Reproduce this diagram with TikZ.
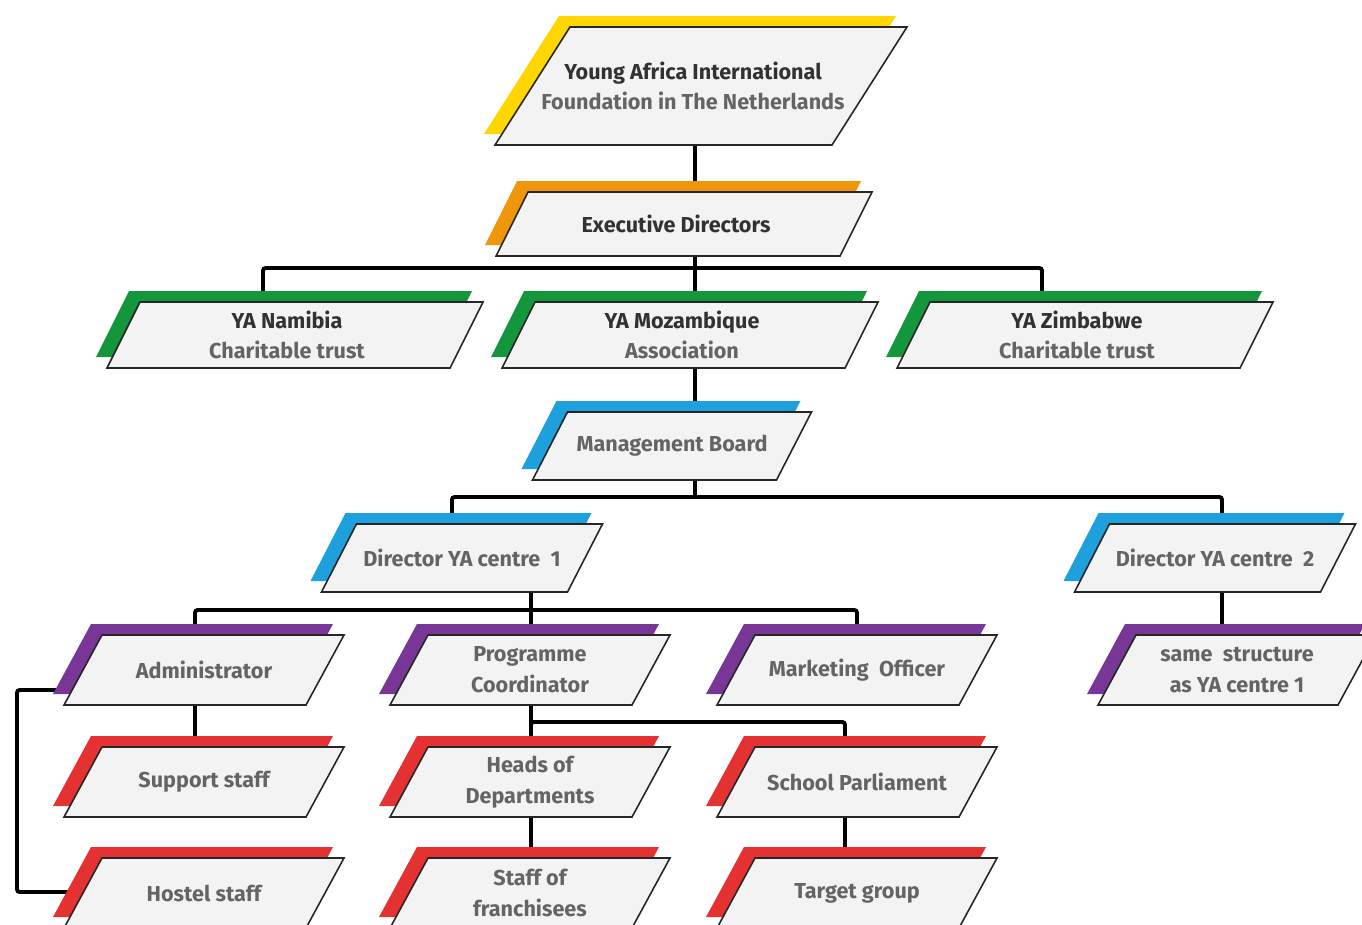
\documentclass[tikz,border=0pt]{standalone}
\usepackage{fontspec}
\setmainfont{Fira Sans}
\usetikzlibrary{positioning,calc}

\definecolor{yayellow}{RGB}{255,214,0}
\definecolor{yaorange}{RGB}{240,150,10}
\definecolor{yagreen}{RGB}{20,150,60}
\definecolor{yablue}{RGB}{30,160,220}
\definecolor{yapurple}{RGB}{120,55,150}
\definecolor{yared}{RGB}{228,50,50}
\definecolor{boxfill}{RGB}{243,243,243}
\definecolor{headgrey}{RGB}{50,50,50}
\definecolor{subgrey}{RGB}{100,100,100}

\pgfdeclarelayer{links}
\pgfdeclarelayer{boxes}
\pgfsetlayers{links,boxes,main}

\begin{document}
\begin{tikzpicture}[x=.02cm,y=-.02cm,
    boxtext/.style={align=center,inner sep=0pt,outer sep=0pt,text=subgrey,
      font=\bfseries\fontsize{12.3}{17.5}\selectfont},
    link/.style={line width=2.2pt,rounded corners=1.5pt},
    frame/.style={fill=boxfill,draw=black!85,line width=.9pt}]

  % box: [slant] name, x, y, width, height, colour, text
  \def\boxdx{8}
  \newcommand{\orgbox}[8][34]{%
    \node[boxtext,minimum width=#5*.02cm,minimum height=#6*.02cm] (#2) at (#3-\boxdx,#4) {#8};
    \begin{pgfonlayer}{boxes}
      \fill[#7] ($(#2.north west)+(#1/2-11+\boxdx,-11)$) -- ($(#2.north east)+(#1/2-11+\boxdx,-11)$)
        -- ($(#2.south east)+(-#1/2-11+\boxdx,-11)$) -- ($(#2.south west)+(-#1/2-11+\boxdx,-11)$) -- cycle;
      \draw[frame] ($(#2.north west)+(#1/2+\boxdx,0)$) -- ($(#2.north east)+(#1/2+\boxdx,0)$)
        -- ($(#2.south east)+(-#1/2+\boxdx,0)$) -- ($(#2.south west)+(-#1/2+\boxdx,0)$) -- cycle;
    \end{pgfonlayer}}
  \newcommand{\hd}[1]{\textcolor{headgrey}{#1}}

  \useasboundingbox (0,0) rectangle (1362,924);

  \orgbox[75]{yaf}{701}{86}{337}{118}{yayellow}{\hd{Young Africa International}\\Foundation in The Netherlands}
  \orgbox[32]{exec}{684}{224}{344}{64}{yaorange}{\hd{Executive Directors}}

  \orgbox[33]{nam}{295}{335}{343}{66}{yagreen}{\hd{YA Namibia}\\Charitable trust}
  \orgbox[33]{moz}{690}{335}{343}{66}{yagreen}{\hd{YA Mozambique}\\Association}
  \orgbox[33]{zim}{1085}{335}{343}{66}{yagreen}{\hd{YA Zimbabwe}\\Charitable trust}

  \def\boxdx{0}
  \orgbox[35]{mgmt}{672}{446}{244}{68}{yablue}{Management Board}
  \orgbox[35]{dir1}{462}{558}{246}{68}{yablue}{Director YA centre~~1}
  \orgbox[35]{dir2}{1215}{558}{246}{68}{yablue}{Director YA centre~~2}

  \orgbox[38]{admin}{204}{670}{242}{70}{yapurple}{Administrator}
  \orgbox[38]{prog}{530}{670}{242}{70}{yapurple}{Programme\\Coordinator}
  \orgbox[38]{mkt}{857}{670}{242}{70}{yapurple}{Marketing~~Officer}
  \orgbox[38]{same}{1237}{670}{240}{70}{yapurple}{same~~structure\\as YA centre 1}

  \orgbox[38]{supp}{204}{782}{242}{70}{yared}{Support staff}
  \orgbox[38]{heads}{530}{782}{242}{70}{yared}{Heads of\\Departments}
  \orgbox[38]{parl}{857}{782}{242}{70}{yared}{School Parliament}

  \orgbox[38]{host}{204}{893}{242}{70}{yared}{Hostel staff}
  \orgbox[38]{staff}{530}{893}{242}{70}{yared}{Staff of\\franchisees}
  \orgbox[38]{target}{857}{893}{242}{70}{yared}{Target group}

  % columns of the connectors
  \coordinate (colA) at (695,0);
  \coordinate (colN) at (263,0);
  \coordinate (colZ) at (1042,0);
  \coordinate (colD1) at (452,0);
  \coordinate (colD2) at (1222,0);
  \coordinate (colC) at (531,0);
  \coordinate (colAd) at (195,0);
  \coordinate (colM) at (857,0);
  \coordinate (colP) at (845,0);
  \coordinate (colL) at (17,0);

  \begin{pgfonlayer}{links}
    \draw[link] (yaf.south -| colA) -- (exec.north -| colA);
    \draw[link] (exec.south -| colA) -- (moz.north -| colA);
    \draw[link] (nam.north -| colN) -- ++(0,-34) -| (zim.north -| colZ);
    \draw[link] (moz.south -| colA) -- (mgmt.north -| colA);
    \draw[link] (mgmt.south -| colA) -- ++(0,17);
    \draw[link] (dir1.north -| colD1) -- ++(0,-27) -| (dir2.north -| colD2);
    \draw[link] (dir1.south -| colC) -- (prog.north -| colC);
    \draw[link] (admin.north -| colAd) -- ++(0,-25) -| (mkt.north -| colM);
    \draw[link] (dir2.south -| colD2) -- (same.north -| colD2);
    \draw[link] (admin.south -| colAd) -- (supp.north -| colAd);
    \draw[link] (prog.south -| colC) -- (heads.north -| colC);
    \draw[link] (heads.north -| colC) -- ++(0,-25) -| (parl.north -| colP);
    \draw[link] (heads.south -| colC) -- (staff.north -| colC);
    \draw[link] (parl.south -| colP) -- (target.north -| colP);
    \draw[link] ($(admin.west)+(-5,20)$) -| ($(colL |- host.west)+(0,-1)$) -- ($(host.west)+(-5,-1)$);
  \end{pgfonlayer}
\end{tikzpicture}
\end{document}
